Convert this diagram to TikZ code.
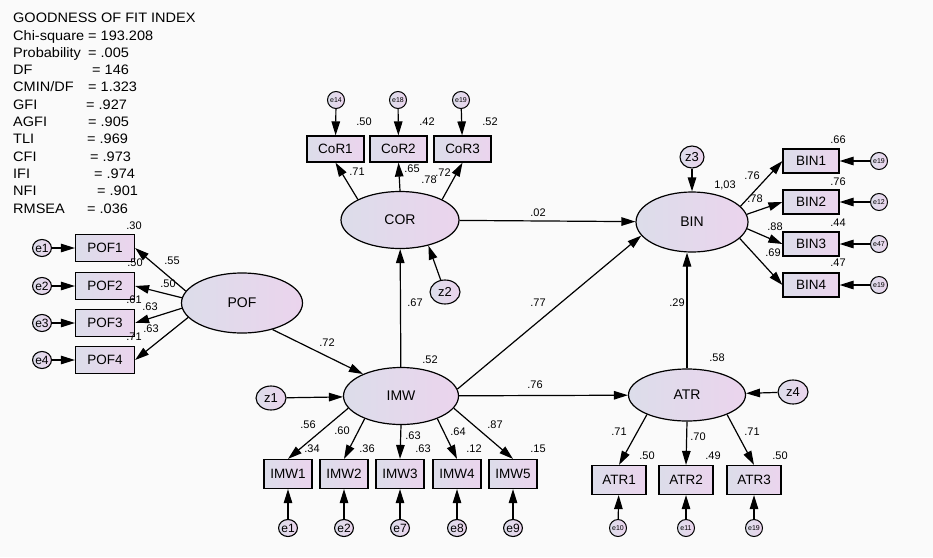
\documentclass[tikz,border=0pt]{standalone}
\usepackage{fontspec}
\setmainfont{Liberation Sans}
\newfontfamily\goffont[FakeStretch=1.06]{Liberation Sans}
\usepackage{tikz}
\usetikzlibrary{shapes.geometric,arrows.meta}
\definecolor{semleft}{RGB}{220,221,234}
\definecolor{semright}{RGB}{235,212,237}
\definecolor{sembg}{RGB}{250,250,250}

\begin{document}
\begin{tikzpicture}[
    x=1pt, y=-1pt,
    lat/.style={ellipse, draw, line width=1.2pt, left color=semleft, right color=semright, inner sep=0pt, font=\fontsize{14}{16}\selectfont},
    obs/.style={rectangle, draw, line width=1.2pt, left color=semleft, right color=semright, inner sep=0pt, font=\fontsize{13.5}{16}\selectfont},
    err/.style={ellipse, draw, line width=1.1pt, left color=semleft, right color=semright, inner sep=0pt, minimum width=18pt, minimum height=17pt, font=\fontsize{12}{13}\selectfont},
    errs/.style={circle, draw, line width=1pt, left color=semleft, right color=semright, inner sep=0pt, minimum size=17pt, font=\fontsize{7}{8}\selectfont},
    dist/.style={ellipse, draw, line width=1.1pt, left color=semleft, right color=semright, inner sep=0pt, minimum width=30pt, minimum height=24pt, font=\fontsize{13}{14}\selectfont},
    est/.style={inner sep=0pt, font=\fontsize{11}{12}\selectfont},
    arr/.style={-{Triangle[length=14pt,width=8.5pt]}, line width=1.2pt}
]
\fill[sembg] (0,0) rectangle (933,557);
\useasboundingbox (0,0) rectangle (933,557);

% fit indices
\node[anchor=north west, inner sep=0pt, align=left, font=\goffont\fontsize{13.7}{17.3}\selectfont] (gof) at (13,13) {GOODNESS OF FIT INDEX\\
\makebox[75pt][l]{Chi-square}= 193.208\\
\makebox[75pt][l]{Probability}= .005\\
\makebox[79pt][l]{DF}= 146\\
\makebox[75pt][l]{CMIN/DF}= 1.323\\
\makebox[73pt][l]{GFI}= .927\\
\makebox[75pt][l]{AGFI}= .905\\
\makebox[74pt][l]{TLI}= .969\\
\makebox[77pt][l]{CFI}= .973\\
\makebox[81pt][l]{IFI}= .974\\
\makebox[84pt][l]{NFI}= .901\\
\makebox[74pt][l]{RMSEA}= .036};

% latent variables
\node[lat, minimum width=121pt, minimum height=60pt] (POF) at (242,303) {POF};
\node[lat, minimum width=118pt, minimum height=57pt] (COR) at (400,220) {COR};
\node[lat, minimum width=115pt, minimum height=57pt] (IMW) at (401,396) {IMW};
\node[lat, minimum width=112pt, minimum height=60pt] (BIN) at (692,222) {BIN};
\node[lat, minimum width=117pt, minimum height=52pt] (ATR) at (687,395) {ATR};

% disturbances
\node[dist] (z1) at (271,398) {z1};
\node[dist] (z2) at (445,292) {z2};
\node[dist, minimum width=24pt, minimum height=22pt] (z3) at (692,157) {z3};
\node[dist] (z4) at (793,392) {z4};

% POF indicators
\node[obs, minimum width=59pt, minimum height=27pt] (pof1) at (105,248) {POF1};
\node[obs, minimum width=59pt, minimum height=27pt] (pof2) at (105,286) {POF2};
\node[obs, minimum width=59pt, minimum height=27pt] (pof3) at (105,323) {POF3};
\node[obs, minimum width=59pt, minimum height=27pt] (pof4) at (105,360) {POF4};
\node[err] (ep1) at (42,248) {e1};
\node[err] (ep2) at (42,286) {e2};
\node[err] (ep3) at (42,323) {e3};
\node[err] (ep4) at (42,360) {e4};

% COR indicators
\node[obs, minimum width=57pt, minimum height=26pt] (cor1) at (335.5,149) {CoR1};
\node[obs, minimum width=57pt, minimum height=26pt] (cor2) at (398.5,149) {CoR2};
\node[obs, minimum width=57pt, minimum height=26pt] (cor3) at (462.5,149) {CoR3};
\node[errs] (ec1) at (336,100) {e14};
\node[errs] (ec2) at (398,100) {e18};
\node[errs] (ec3) at (461,100) {e19};

% IMW indicators
\node[obs, minimum width=48pt, minimum height=29pt] (imw1) at (288,474) {IMW1};
\node[obs, minimum width=48pt, minimum height=29pt] (imw2) at (344,474) {IMW2};
\node[obs, minimum width=48pt, minimum height=29pt] (imw3) at (400,474) {IMW3};
\node[obs, minimum width=48pt, minimum height=29pt] (imw4) at (457,474) {IMW4};
\node[obs, minimum width=48pt, minimum height=29pt] (imw5) at (513,474) {IMW5};
\node[err] (ei1) at (288,528) {e1};
\node[err] (ei2) at (344,528) {e2};
\node[err] (ei3) at (400,528) {e7};
\node[err] (ei4) at (457,528) {e8};
\node[err] (ei5) at (513,528) {e9};

% BIN indicators
\node[obs, minimum width=56pt, minimum height=24pt] (bin1) at (811,161) {BIN1};
\node[obs, minimum width=56pt, minimum height=24pt] (bin2) at (811,202) {BIN2};
\node[obs, minimum width=56pt, minimum height=24pt] (bin3) at (811,244) {BIN3};
\node[obs, minimum width=56pt, minimum height=24pt] (bin4) at (811,285) {BIN4};
\node[errs] (eb1) at (879,161) {e19};
\node[errs] (eb2) at (879,202) {e12};
\node[errs] (eb3) at (879,244) {e47};
\node[errs] (eb4) at (879,285) {e19};

% ATR indicators
\node[obs, minimum width=54pt, minimum height=29pt] (atr1) at (619,480) {ATR1};
\node[obs, minimum width=54pt, minimum height=29pt] (atr2) at (686,480) {ATR2};
\node[obs, minimum width=54pt, minimum height=29pt] (atr3) at (754,480) {ATR3};
\node[errs] (ea1) at (618,528) {e10};
\node[errs] (ea2) at (686,528) {e11};
\node[errs] (ea3) at (754,528) {e19};

% structural paths
\draw[arr] (POF.319) -- (IMW.150);
\draw[arr] (IMW) -- (COR);
\draw[arr] (COR) -- (BIN);
\draw[arr] (IMW.7) -- (BIN.195);
\draw[arr] (IMW) -- (ATR);
\draw[arr] (ATR.north) -- (ATR.north |- BIN.south);
\draw[arr] (z1) -- (IMW);
\draw[arr] (z2) -- (COR.318);
\draw[arr] (z3) -- (BIN);
\draw[arr] (z4) -- (ATR);

% measurement paths
\draw[arr] (POF.168) -- (pof1.east);
\draw[arr] (POF.175) -- (pof2.east);
\draw[arr] (POF.185) -- (pof3.east);
\draw[arr] (POF.195) -- (pof4.east);
\draw[arr] (ep1) -- (pof1);
\draw[arr] (ep2) -- (pof2);
\draw[arr] (ep3) -- (pof3);
\draw[arr] (ep4) -- (pof4);

\draw[arr] (COR.154) -- (cor1.south);
\draw[arr] (COR.90) -- (cor2.south);
\draw[arr] (COR.26) -- (cor3.south);
\draw[arr] (ec1) -- (cor1);
\draw[arr] (ec2) -- (cor2);
\draw[arr] (ec3) -- (cor3);

\draw[arr] (IMW.193) -- (imw1.north);
\draw[arr] (IMW.212) -- (imw2.north);
\draw[arr] (IMW.270) -- (imw3.north);
\draw[arr] (IMW.328) -- (imw4.north);
\draw[arr] (IMW.347) -- (imw5.north);
\draw[arr] (ei1) -- (imw1);
\draw[arr] (ei2) -- (imw2);
\draw[arr] (ei3) -- (imw3);
\draw[arr] (ei4) -- (imw4);
\draw[arr] (ei5) -- (imw5);

\draw[arr] (BIN.18) -- (bin1.west);
\draw[arr] (BIN.8) -- (bin2.west);
\draw[arr] (BIN.353) -- (bin3.west);
\draw[arr] (BIN.341) -- (bin4.west);
\draw[arr] (eb1) -- (bin1);
\draw[arr] (eb2) -- (bin2);
\draw[arr] (eb3) -- (bin3);
\draw[arr] (eb4) -- (bin4);

\draw[arr] (ATR.206) -- (atr1.north);
\draw[arr] (ATR.270) -- (atr2.north);
\draw[arr] (ATR.334) -- (atr3.north);
\draw[arr] (ea1) -- (atr1);
\draw[arr] (ea2) -- (atr2);
\draw[arr] (ea3) -- (atr3);

% estimates
\node[est] (r-pof1) at (134,226) {.30};
\node[est] (r-pof2) at (135,263) {.50};
\node[est] (r-pof3) at (134,300) {.61};
\node[est] (r-pof4) at (134,337) {.71};
\node[est] (w-pof1) at (172,261) {.55};
\node[est] (w-pof2) at (168,284) {.50};
\node[est] (w-pof3) at (150,307) {.63};
\node[est] (w-pof4) at (151,329) {.63};

\node[est] (r-cor1) at (364,122) {.50};
\node[est] (r-cor2) at (427,122) {.42};
\node[est] (r-cor3) at (490,122) {.52};
\node[est] (w-cor1) at (357,172) {.71};
\node[est] (w-cor2) at (412,169) {.65};
\node[est] (w-cor3) at (443,173) {.72};
\node[est] (w-cor4) at (429,180) {.78};

\node[est] (p-corbin) at (538,213) {.02};
\node[est] (p-imwcor) at (415,303) {.67};
\node[est] (p-imwbin) at (538,303) {.77};
\node[est] (p-pofimw) at (327,343) {.72};
\node[est] (r-imw) at (430,360) {.52};
\node[est] (p-imwatr) at (535,385) {.76};

\node[est] (w-imw1) at (308,425) {.56};
\node[est] (w-imw2) at (342,431) {.60};
\node[est] (w-imw3) at (413,436) {.63};
\node[est] (w-imw4) at (458,432) {.64};
\node[est] (w-imw5) at (495,425) {.87};
\node[est] (r-imw1) at (312,449) {.34};
\node[est] (r-imw2) at (367,449) {.36};
\node[est] (r-imw3) at (423,449) {.63};
\node[est] (r-imw4) at (474,449) {.12};
\node[est] (r-imw5) at (538,449) {.15};

\node[est] (r-bin) at (725,185) {1,03};
\node[est] (w-bin1) at (752,176) {.76};
\node[est] (w-bin2) at (755,199) {.78};
\node[est] (w-bin3) at (775,227) {.88};
\node[est] (w-bin4) at (773,253) {.69};
\node[est] (r-bin1) at (838,140) {.66};
\node[est] (r-bin2) at (838,182) {.76};
\node[est] (r-bin3) at (838,223) {.44};
\node[est] (r-bin4) at (838,263) {.47};
\node[est] (p-atrbin) at (677,303) {.29};

\node[est] (r-atr) at (717,358) {.58};
\node[est] (w-atr1) at (619,432) {.71};
\node[est] (w-atr2) at (698,437) {.70};
\node[est] (w-atr3) at (752,432) {.71};
\node[est] (r-atr1) at (647,456) {.50};
\node[est] (r-atr2) at (713,456) {.49};
\node[est] (r-atr3) at (780,456) {.50};
\end{tikzpicture}
\end{document}
